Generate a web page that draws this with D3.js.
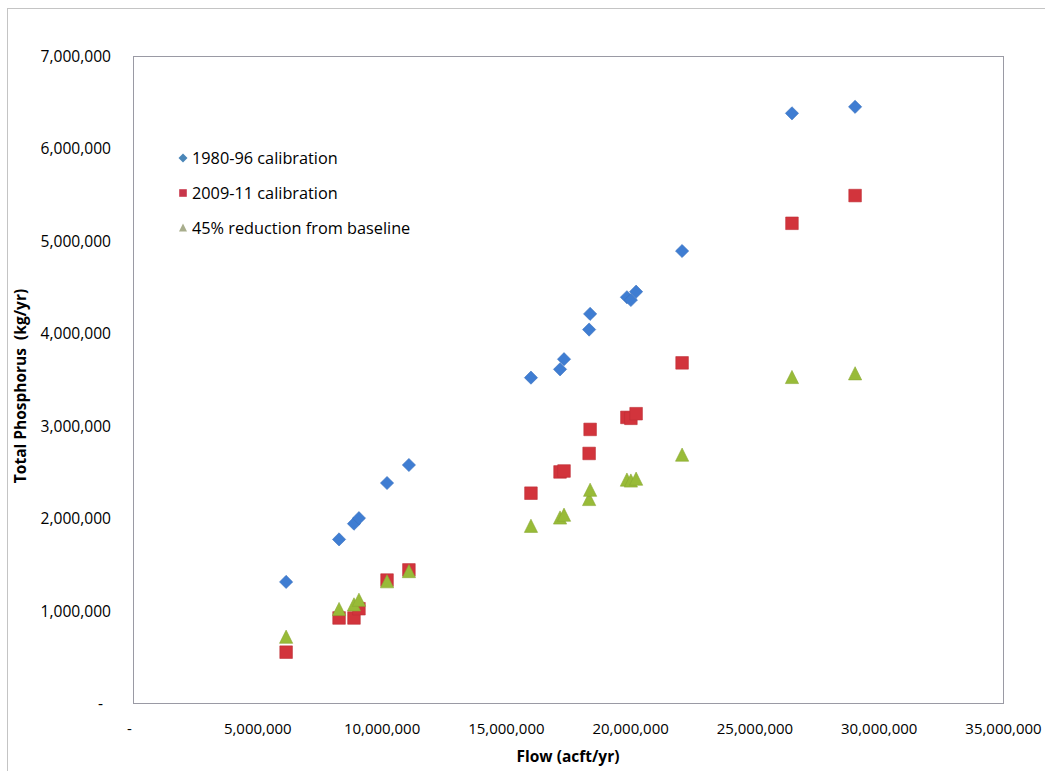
<!DOCTYPE html>
<html>
<head>
<meta charset="utf-8">
<script src="https://cdn.jsdelivr.net/npm/d3@7"></script>
<style>
  html, body { margin: 0; padding: 0; background: #fff; }
  svg { display: block; }
  text { font-family: "Open Sans", "Noto Sans", sans-serif; fill: #000; }
</style>
</head>
<body>
<svg id="chart" width="1045" height="771"></svg>
<script>
// ---- Data ----
const flow = [6160000, 8290000, 8890000, 9090000, 10220000, 11100000,
              16010000, 17180000, 17340000, 18350000, 18390000,
              19870000, 20030000, 20240000, 22090000, 26510000, 29050000];
const calib8096 = [1310000, 1770000, 1940000, 2000000, 2380000, 2575000,
                   3520000, 3610000, 3720000, 4040000, 4210000,
                   4390000, 4360000, 4450000, 4890000, 6380000, 6450000];
const calib0911 = [550000, 920000, 920000, 1020000, 1330000, 1440000,
                   2270000, 2500000, 2510000, 2700000, 2960000,
                   3090000, 3080000, 3130000, 3680000, 5190000, 5490000];
const reduction45 = [710000, 1010000, 1060000, 1110000, 1310000, 1420000,
                     1910000, 2000000, 2030000, 2200000, 2300000,
                     2410000, 2400000, 2420000, 2680000, 3520000, 3560000];
const seriesNames = ["1980-96 calibration", "2009-11 calibration", "45% reduction from baseline"];
const xTicks = [0, 5000000, 10000000, 15000000, 20000000, 25000000, 30000000, 35000000];
const yTicks = [0, 1000000, 2000000, 3000000, 4000000, 5000000, 6000000, 7000000];

// ---- Layout ----
const svg = d3.select("#chart");
const plot = { left: 133, top: 56, right: 1003, bottom: 703 };
const x = d3.scaleLinear().domain([0, 35000000]).range([plot.left, plot.right]);
const y = d3.scaleLinear().domain([0, 7000000]).range([plot.bottom, plot.top]);
const fmt = v => v === 0 ? "-" : d3.format(",")(v);

// outer chart border
svg.append("rect").attr("x", 7.5).attr("y", 8.5).attr("width", 1100).attr("height", 800)
  .attr("fill", "none").attr("stroke", "#c4c4c4").attr("stroke-width", 1);

// plot area border
svg.append("rect").attr("x", plot.left + 0.5).attr("y", plot.top + 0.5)
  .attr("width", plot.right - plot.left).attr("height", plot.bottom - plot.top)
  .attr("fill", "none").attr("stroke", "#9a9aa4").attr("stroke-width", 1);

// axes
const xAxis = d3.axisBottom(x).tickValues(xTicks).tickFormat(fmt).tickSize(0).tickPadding(0);
const gx = svg.append("g").attr("transform", `translate(0,${plot.bottom})`).call(xAxis);
gx.select(".domain").remove();
gx.selectAll("text").attr("font-size", 15).attr("dy", null).attr("y", 31)
  .attr("font-family", "Open Sans")
  .attr("dx", d => d === 0 ? -4 : 0);

const yAxis = d3.axisLeft(y).tickValues(yTicks).tickFormat(fmt).tickSize(0).tickPadding(0);
const gy = svg.append("g").attr("transform", `translate(${plot.left},0)`).call(yAxis);
gy.select(".domain").remove();
gy.selectAll("text").attr("font-size", 15.6).attr("x", d => d === 0 ? -30 : -22)
  .attr("font-family", "Open Sans").attr("dy", "0.35em");

// axis titles
svg.append("text").attr("x", 568).attr("y", 762)
  .attr("text-anchor", "middle").attr("font-size", 15.5).attr("font-weight", "bold")
  .text("Flow (acft/yr)");
svg.append("text").attr("transform", `translate(26,386) rotate(-90)`)
  .attr("text-anchor", "middle").attr("font-size", 15.5).attr("font-weight", "bold")
  .attr("xml:space", "preserve").style("white-space", "pre")
  .text("Total Phosphorus  (kg/yr)");

// marker shapes
const diamond = s => `M0,${-s}L${s},0L0,${s}L${-s},0Z`;
const square = s => `M${-s},${-s}H${s}V${s}H${-s}Z`;
const triangle = s => `M0,${-s * 1.1}L${s},${s * 0.9}L${-s},${s * 0.9}Z`;

const colors = ["#3f7dd2", "#d2343c", "#98bb38"];
const shapes = [diamond, square, triangle];
const sizes = [6.6, 6.3, 6.6];
const series = [calib8096, calib0911, reduction45];

const g = svg.append("g");
series.forEach((vals, i) => {
  g.selectAll(null).data(vals.map((v, k) => [flow[k], v])).enter().append("path")
    .attr("d", shapes[i](sizes[i]))
    .attr("transform", d => `translate(${x(d[0])},${y(d[1])})`)
    .attr("fill", colors[i])
    .attr("stroke", d3.color(colors[i]).darker(0.3))
    .attr("stroke-width", 0.6);
});

// legend
const legendY = [158, 193, 228];
const legendSizes = [4.5, 3.8, 4];
const legendColors = ["#4a86b8", "#c8364a", "#a8ad8c"];
const lg = svg.append("g");
seriesNames.forEach((name, i) => {
  lg.append("path").attr("d", shapes[i](legendSizes[i]))
    .attr("transform", `translate(183,${legendY[i]})`)
    .attr("fill", legendColors[i]);
  lg.append("text").attr("x", 192).attr("y", legendY[i]).attr("dy", "0.35em")
    .attr("font-size", 16.3).text(name);
});
</script>
</body>
</html>
